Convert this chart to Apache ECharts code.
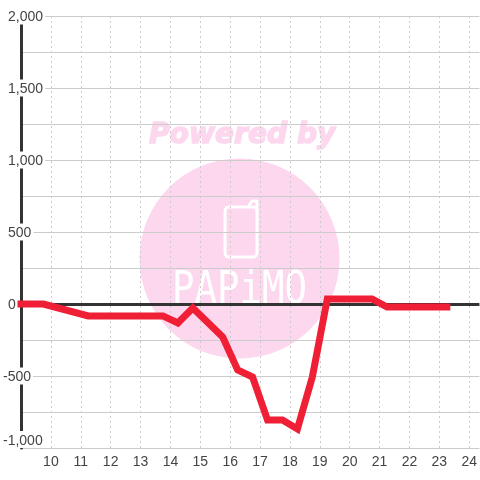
<!DOCTYPE html>
<html>
<head>
<meta charset="utf-8">
<style>
  html, body { margin: 0; padding: 0; background: #fff; }
  #main { width: 480px; height: 480px; }
</style>
<script src="https://cdn.jsdelivr.net/npm/echarts@6/dist/echarts.min.js"></script>
</head>
<body>
<div id="main"></div>
<script>
  // hour of day
  var hours = [9, 9.75, 11.25, 13.75, 14.25, 14.75, 15.75, 16.25, 16.75, 17.25, 17.75, 18.25, 18.75, 19.25, 20.75, 21.25, 23.25];
  var values = [0, 0, -83, -83, -132, -28, -229, -458, -507, -806, -806, -868, -507, 35, 35, -21, -21];

  var pink = '#fcd7ee';
  var textColor = '#444';
  var gridColor = '#ccc';

  var myChart = echarts.init(document.getElementById('main'));
  myChart.setOption({
    animation: false,
    backgroundColor: '#fff',
    grid: { left: 20, right: 0, top: 16, bottom: 32 },
    graphic: [
      { type: 'circle', z: -1, shape: { cx: 239.5, cy: 258.5, r: 100 }, style: { fill: pink } },
      { type: 'text', z: -1, x: 149, y: 121, scaleX: 0.97, style: { text: 'Powered by', fill: pink, stroke: pink, lineWidth: 1.5, font: 'italic bold 29px "DejaVu Sans"' } },
      { type: 'rect', z: -1, shape: { x: 225, y: 207, width: 32, height: 50, r: 4 }, style: { fill: 'none', stroke: '#fff', lineWidth: 3 } },
      { type: 'polyline', z: -1, shape: { points: [[248, 207], [252, 201], [257, 201], [257, 212]] }, style: { fill: 'none', stroke: '#fff', lineWidth: 3, lineJoin: 'round' } },
      { type: 'text', z: -1, x: 172, y: 269, scaleX: 0.83, style: { text: 'PAPiMO', fill: '#fff', font: '45px "DejaVu Sans Mono"' } }
    ],
    xAxis: {
      type: 'value',
      min: 9,
      max: 24.34,
      interval: 1,
      axisLine: { show: false },
      axisTick: { show: false },
      splitLine: { show: true, showMinLine: false, showMaxLine: false, lineStyle: { color: gridColor, type: [2, 3], width: 1 } },
      axisLabel: {
        showMinLabel: false,
        showMaxLabel: false,
        margin: 7,
        color: textColor,
        fontSize: 14,
        fontFamily: 'Liberation Sans'
      }
    },
    yAxis: {
      type: 'value',
      min: -1000,
      max: 2000,
      interval: 500,
      axisLine: { show: true, onZero: false, lineStyle: { color: '#333', width: 3 } },
      axisTick: { show: false },
      splitLine: { show: true, lineStyle: { color: gridColor, width: 1 } },
      minorTick: { show: false, splitNumber: 2 },
      minorSplitLine: { show: true, lineStyle: { color: gridColor, width: 1 } },
      axisLabel: {
        margin: 18,
        align: 'left',
        color: textColor,
        fontSize: 14,
        fontFamily: 'Liberation Sans',
        verticalAlignMinLabel: 'bottom',
        backgroundColor: '#fff',
        padding: [3, 2, 0, 0],
        formatter: function (v) {
          var s = echarts.format.addCommas(v);
          return v < 0 ? '{n|' + s + '}' : '{p|' + s + '}';
        },
        rich: {
          n: { color: textColor, fontSize: 14, fontFamily: 'Liberation Sans' },
          p: { color: textColor, fontSize: 14, fontFamily: 'Liberation Sans', padding: [0, 0, 0, 5] }
        }
      }
    },
    series: [
      {
        // only carries the black line at zero, under the red line
        type: 'line',
        data: [],
        z: 1,
        silent: true,
        markLine: {
          z: 1,
          silent: true,
          symbol: ['none', 'none'],
          label: { show: false },
          lineStyle: { color: '#333', type: 'solid', width: 3 },
          data: [{ yAxis: 0 }]
        }
      },
      {
        type: 'line',
        data: hours.map(function (h, i) { return [h, values[i]]; }),
        z: 2,
        showSymbol: false,
        clip: false,
        lineStyle: { color: '#ef2036', width: 7, cap: 'square', join: 'miter' }
      }
    ]
  });
</script>
</body>
</html>
